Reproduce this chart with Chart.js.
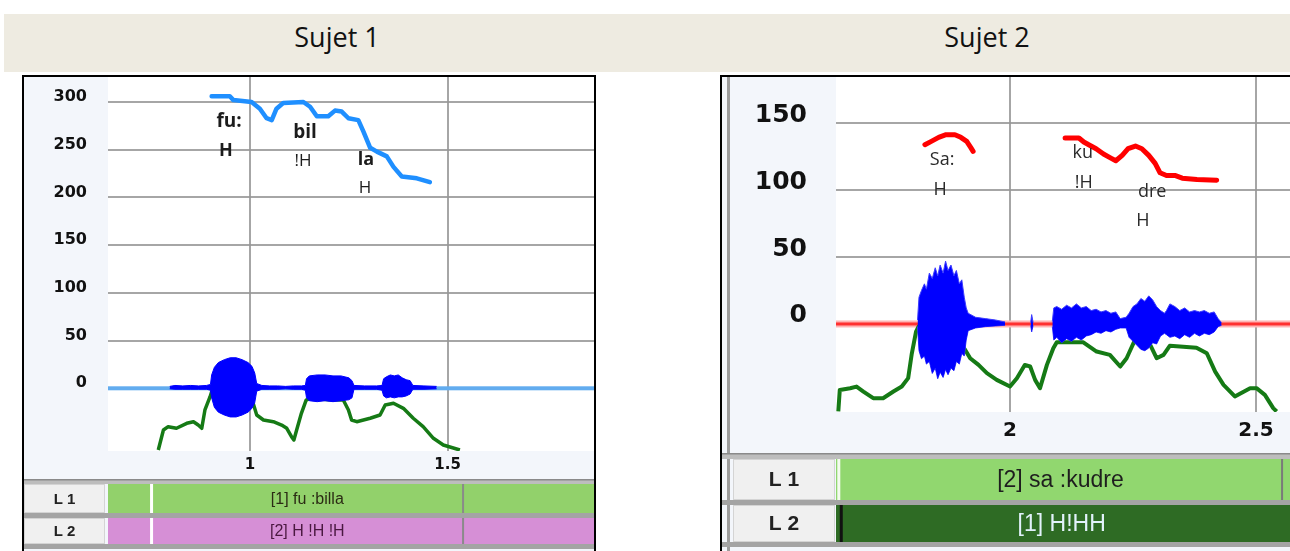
<!DOCTYPE html>
<html>
<head>
<meta charset="utf-8">
<title>Sujet 1 / Sujet 2</title>
<script src="https://cdn.jsdelivr.net/npm/chart.js@4.4.1/dist/chart.umd.min.js"></script>
<style>
  body { margin: 0; width: 1290px; height: 551px; overflow: hidden; background: #fff; position: relative; }
  .band { position: absolute; left: 4px; top: 14px; width: 1286px; height: 58px; background: #eeebe1; }
  .band span { position: absolute; top: 4px; line-height: 46px; font: 27px "Open Sans", sans-serif; color: #111; transform: translateX(-50%); }
  .panel { position: absolute; top: 75px; border-top: 2px solid #000; border-left: 2px solid #000; }
  #p1 { left: 22px; width: 570px; height: 474px; border-right: 2px solid #000; }
  #p2 { left: 720px; width: 568px; height: 474px; }
  canvas { display: block; }
</style>
</head>
<body>
<div class="band">
  <span style="left:333px">Sujet 1</span>
  <span style="left:983px">Sujet 2</span>
</div>
<div class="panel" id="p1"><canvas id="chart1" width="570" height="474"></canvas></div>
<div class="panel" id="p2"><canvas id="chart2" width="568" height="474"></canvas></div>

<script>
// ---- Sujet 1 : fu:billa ----
const xTicks1 = [1, 1.5];
const yTicks1 = [0, 50, 100, 150, 200, 250, 300];

// F0 contour (Hz)
const pitchTime1 = [0.903, 0.949, 0.958, 1.004, 1.025, 1.042, 1.055, 1.067, 1.084, 1.135, 1.152, 1.169, 1.198,
  1.215, 1.232, 1.249, 1.274, 1.287, 1.304, 1.321, 1.346, 1.363, 1.384, 1.422, 1.455];
const pitchHz1 = [306, 306, 302, 300, 293, 283, 281, 293, 299, 300, 295, 285, 285,
  291, 290, 283, 281, 269, 252, 248, 243, 232, 222, 220, 216];

// intensity curve, drawn below the zero line
const intTime1 = [0.768, 0.781, 0.793, 0.814, 0.840, 0.857, 0.869, 0.878, 0.886, 0.899,
  0.903, 0.930, 0.970, 1.008, 1.017, 1.034, 1.059, 1.080, 1.093, 1.105,
  1.111, 1.118, 1.130, 1.142, 1.152, 1.200, 1.236, 1.249, 1.257, 1.270,
  1.304, 1.329, 1.342, 1.363, 1.388, 1.413, 1.438, 1.464, 1.489, 1.531];
const intVal1 = [-64.7, -43.7, -40.2, -41.9, -36.7, -35, -38.5, -41.9, -22.7, -8.8,
  -3.6, 0, -5, -15.7, -28, -33.2, -35, -38.5, -41.9, -50.7,
  -54.2, -43.7, -26.2, -12.3, -10.5, -12, -12.3, -22.7, -33.2, -35,
  -31.4, -28, -17.5, -15.7, -21, -31.4, -40.2, -52.4, -59.4, -64.7];

// waveform envelope around zero
const waveTime1 = [0.797, 0.810, 0.830, 0.850, 0.870, 0.890, 0.900,
  0.903, 0.910, 0.920, 0.935, 0.950, 0.965, 0.980, 0.995, 1.005, 1.012, 1.017,
  1.030, 1.050, 1.070, 1.090, 1.110, 1.130, 1.140,
  1.143, 1.150, 1.170, 1.190, 1.210, 1.230, 1.250, 1.258, 1.263,
  1.290, 1.320, 1.334,
  1.338, 1.345, 1.355, 1.365, 1.375, 1.385, 1.395, 1.405, 1.412,
  1.440, 1.472];
const waveMax1 = [2, 3, 2.5, 3, 2.5, 3, 4,
  14, 22, 27, 30, 32, 32, 30, 27, 23, 16, 5,
  3, 2.5, 2.5, 2, 2.5, 2.5, 3,
  10, 13, 14, 14, 13, 13, 11, 8, 3,
  2.5, 2.5, 3,
  10, 12, 14, 13, 14, 11, 9, 8, 3,
  2.5, 2];
const waveMin1 = [-0.5, -1, -1, -1, -1, -1, -2,
  -10, -20, -25, -28, -30, -30, -28, -25, -21, -15, -3,
  -1, -1, -1, -0.5, -1, -1, -2,
  -10, -13, -14, -13, -14, -13, -12, -10, -1,
  -1, -1, -2,
  -8, -10, -9, -10, -9, -9, -8, -6, -1,
  -1, -0.5];

// syllable / tone labels
const sylText1 = ['fu:', 'H', 'bil', '!H', 'la', 'H'];
const sylTime1 = [0.947, 0.939, 1.139, 1.134, 1.293, 1.291];
const sylHz1 = [279, 248.7, 267.5, 238.2, 239.2, 209.9];

// annotation tiers
const tierNames = ['L 1', 'L 2'];
const tierText1 = ['[1] fu :billa', '[2] H !H !H'];
const tierStart1 = [0.751, 0.751];
const tierEnd1 = [1.539, 1.539];

// ---- Sujet 2 : sa:kudre ----
const xTicks2 = [2, 2.5];
const yTicks2 = [0, 50, 100, 150];

const pitchTime2 = [1.827, 1.840, 1.855, 1.870, 1.888, 1.900, 1.912, 1.920, 1.925,
  2.000,
  2.112, 2.140, 2.150, 2.160, 2.175, 2.190, 2.205, 2.215, 2.228, 2.240,
  2.255, 2.268, 2.282, 2.295, 2.305, 2.318, 2.335, 2.350, 2.380, 2.420];
const pitchHz2 = [134, 136.5, 139.5, 141.5, 141.5, 139.5, 136.5, 132, 129,
  null,
  139, 139, 136, 134, 131, 127, 124, 122, 126, 131,
  133, 131, 126, 120, 113, 111, 111, 109, 108, 107.5];

const intTime2 = [1.651, 1.654, 1.675, 1.688, 1.702, 1.722, 1.742, 1.763, 1.780, 1.793,
  1.800, 1.809, 1.814, 1.860, 1.909, 1.919, 1.936, 1.953, 1.973, 2.000,
  2.014, 2.030, 2.041, 2.051, 2.061, 2.075, 2.088, 2.095, 2.149, 2.176,
  2.203, 2.224, 2.237, 2.254, 2.261, 2.275, 2.285, 2.298, 2.312, 2.325,
  2.379, 2.400, 2.417, 2.434, 2.457, 2.488, 2.501, 2.518, 2.535, 2.542];
const intVal2 = [-65.4, -49.3, -48, -46.8, -50.5, -55.5, -55.5, -50.5, -46.8, -40.5,
  -23, -5.7, -2, 5, -19.4, -25.6, -30.6, -36.8, -41.8, -46.8,
  -40.5, -30.6, -31.8, -41.8, -48, -30.6, -18.1, -13.7, -13.7, -20.6,
  -23.1, -31.8, -25.6, -11.9, -8.2, -10, -15.7, -25.6, -23.1, -16.2,
  -17.7, -21.9, -35.6, -45.5, -54.2, -48, -48, -53, -62.9, -65.4];

// null entries leave the quiet stretches to the zero line
const waveTime2 = [1.812,
  1.815, 1.820, 1.826, 1.830, 1.836, 1.842, 1.848, 1.853, 1.858, 1.864,
  1.869, 1.874, 1.880, 1.886, 1.891, 1.897, 1.902, 1.907, 1.911, 1.915,
  1.930, 1.950, 1.970, 1.990, 2.000, 2.042, 2.044, 2.047, 2.060, 2.086,
  2.089, 2.095, 2.105, 2.115, 2.125, 2.135, 2.145, 2.155, 2.165, 2.175,
  2.185, 2.195, 2.205, 2.215, 2.224, 2.236,
  2.242, 2.250, 2.258, 2.266, 2.274, 2.282, 2.290, 2.298, 2.306, 2.314,
  2.318, 2.325, 2.335, 2.345, 2.355, 2.365, 2.375, 2.385, 2.395, 2.405,
  2.415, 2.423, 2.430];
const waveMax2 = [3,
  20, 25, 30, 26, 38, 34, 42, 36, 44, 38,
  47, 40, 44, 36, 40, 30, 33, 20, 12, 8,
  5, 4, 3, 1.5, null, 1, 7, 1, null, 2,
  12, 13, 11, 14, 12, 15, 12, 13, 10, 11,
  9, 10, 8, 9, 4, 5,
  8, 13, 15, 19, 17, 21, 18, 13, 10, 8,
  10, 15, 13, 10, 12, 9, 10, 9, 10, 8,
  9, 4, 1];
const waveMin2 = [-2,
  -20, -26, -24, -30, -28, -37, -33, -41, -36, -40,
  -34, -38, -33, -35, -28, -30, -22, -24, -12, -5,
  -3, -2, -1.5, -1, null, -1, -6, -1, null, -2,
  -12, -10, -14, -11, -13, -10, -12, -9, -8, -6,
  -7, -5, -6, -4, -3, -3,
  -10, -13, -16, -19, -20, -18, -14, -15, -9, -7,
  -8, -10, -9, -11, -8, -10, -7, -9, -7, -8,
  -6, -2, -1];

const sylText2 = ['Sa:', 'H', 'ku', '!H', 'dre', 'H'];
const sylTime2 = [1.862, 1.858, 2.148, 2.150, 2.289, 2.270];
const sylHz2 = [122.4, 100, 127.6, 105.2, 98.5, 76.9];

const tierText2 = ['[2] sa :kudre', '[1] H!HH'];
const tierStart2 = [1.652, 1.657];
const tierEnd2 = [2.553, 2.553];

const toPoints = (xs, ys) => xs.map((x, i) => ({ x: x, y: ys[i] }));

// Praat-like window furniture: panel background, zero line, text labels, tiers
const praatPlugin = {
  id: 'praat',
  beforeDraw(chart, args, o) {
    const { ctx, chartArea: a, width, height } = chart;
    const xs = chart.scales.x;
    ctx.save();
    ctx.fillStyle = '#f3f6fb';
    ctx.fillRect(0, 0, width, height);
    ctx.fillStyle = '#fff';
    ctx.fillRect(a.left, a.top, a.right - a.left, a.bottom - a.top);
    if (o.innerLine) {
      ctx.fillStyle = '#9c9c9c';
      ctx.fillRect(o.innerLine, 0, 3, height);
    }
    // separator above the tiers
    let y = o.sepTop;
    ctx.fillStyle = '#bdbdbd';
    ctx.fillRect(0, y, width, o.sepH);
    ctx.fillStyle = '#8a8a8a';
    ctx.fillRect(0, y, width, 1.5);
    y += o.sepH;
    o.rows.forEach((row, i) => {
      const h = o.rowH[i];
      // name cell
      ctx.fillStyle = '#f0f0f0';
      ctx.fillRect(o.cellLeft, y, o.cellRight - o.cellLeft, h);
      ctx.strokeStyle = '#d4d4d4';
      ctx.lineWidth = 1;
      ctx.strokeRect(o.cellLeft + 0.5, y + 0.5, o.cellRight - o.cellLeft - 1, h - 1);
      ctx.fillStyle = '#222';
      ctx.font = o.nameFont;
      ctx.textAlign = 'center';
      ctx.textBaseline = 'middle';
      ctx.fillText(o.names[i], (o.cellLeft + o.cellRight) / 2, y + h / 2 + 1);
      // interval bar
      ctx.fillStyle = row.fill;
      ctx.fillRect(a.left, y, a.right - a.left, h);
      const x0 = xs.getPixelForValue(o.start[i]);
      const x1 = xs.getPixelForValue(o.end[i]);
      if (row.startLine) {
        ctx.fillStyle = row.startLine;
        ctx.fillRect(x0 - 1.5, y, 3, h);
      }
      if (row.endLine) {
        ctx.fillStyle = row.endLine;
        ctx.fillRect(x1 - 1, y, 2, h);
      }
      ctx.fillStyle = row.color;
      ctx.font = o.textFont;
      ctx.fillText(o.text[i], (x0 + x1) / 2, y + h / 2 + 1);
      y += h;
      ctx.fillStyle = '#a4a4a4';
      ctx.fillRect(0, y, width, o.gapH);
      y += o.gapH;
    });
    ctx.restore();
  },
  beforeDatasetsDraw(chart, args, o) {
    const { ctx, chartArea: a } = chart;
    const y0 = chart.scales.y.getPixelForValue(0);
    ctx.save();
    if (o.zeroHalo) {
      ctx.fillStyle = o.zeroHalo;
      ctx.fillRect(a.left, y0 - o.zeroWidth / 2 - 2, a.right - a.left, o.zeroWidth + 4);
    }
    ctx.fillStyle = o.zeroColor;
    ctx.fillRect(a.left, y0 - o.zeroWidth / 2, a.right - a.left, o.zeroWidth);
    ctx.restore();
  },
  afterDatasetsDraw(chart, args, o) {
    const { ctx } = chart;
    const xs = chart.scales.x, ys = chart.scales.y;
    ctx.save();
    ctx.fillStyle = o.labelColor;
    ctx.textAlign = 'center';
    ctx.textBaseline = 'middle';
    o.labels.forEach((txt, i) => {
      ctx.font = o.labelFonts[i];
      ctx.fillText(txt, xs.getPixelForValue(o.labelTime[i]), ys.getPixelForValue(o.labelHz[i]));
    });
    ctx.restore();
  }
};

function buildChart(id, d, look) {
  const grid = () => ({ color: 'rgba(150,150,150,0.85)', lineWidth: 2, drawTicks: false });
  return new Chart(document.getElementById(id), {
    type: 'line',
    data: {
      datasets: [
        {
          label: 'F0',
          data: toPoints(d.pitchTime, d.pitchHz),
          borderColor: look.pitchColor,
          borderWidth: look.pitchWidth,
          borderCapStyle: 'round',
          borderJoinStyle: 'round',
          spanGaps: false
        },
        {
          label: 'wave max',
          data: toPoints(d.waveTime, d.waveMax),
          borderColor: look.waveEdge,
          backgroundColor: '#0000ff',
          borderWidth: 1,
          spanGaps: false,
          fill: '+1'
        },
        {
          label: 'wave min',
          data: toPoints(d.waveTime, d.waveMin),
          borderColor: look.waveEdge,
          borderWidth: 1,
          spanGaps: false,
          fill: false
        },
        {
          label: 'intensity',
          data: toPoints(d.intTime, d.intVal),
          borderColor: '#157a15',
          borderWidth: look.intWidth,
          borderJoinStyle: 'round'
        }
      ]
    },
    options: {
      responsive: false,
      animation: false,
      devicePixelRatio: 1,
      elements: { point: { radius: 0 }, line: { tension: 0 } },
      layout: { padding: { left: 0, right: 0, top: 0, bottom: look.padBottom } },
      scales: {
        x: {
          type: 'linear',
          min: look.xMin,
          max: look.xMax,
          z: 1,
          grid: grid(),
          border: { display: false },
          afterBuildTicks: s => { s.ticks = d.xTicks.map(v => ({ value: v })); },
          afterFit: s => { s.height = look.xHeight; s.paddingLeft = 0; s.paddingRight = 0; },
          ticks: {
            autoSkip: false,
            maxRotation: 0,
            padding: look.xPad,
            color: '#111',
            font: { family: 'DejaVu Sans', weight: 'bold', size: look.xFont },
            callback: v => String(v)
          }
        },
        y: {
          min: look.yMin,
          max: look.yMax,
          z: 1,
          grid: grid(),
          border: { display: false },
          afterBuildTicks: s => { s.ticks = d.yTicks.map(v => ({ value: v })); },
          afterFit: s => { s.width = look.yWidth; s.paddingTop = 0; s.paddingBottom = 0; },
          ticks: {
            padding: look.yPad,
            labelOffset: look.yOffset,
            color: '#111',
            font: { family: 'DejaVu Sans', weight: 'bold', size: look.yFont },
            callback: v => String(v)
          }
        }
      },
      plugins: {
        legend: { display: false },
        tooltip: { enabled: false },
        praat: look.praat
      }
    },
    plugins: [praatPlugin]
  });
}

// SUJET 1
buildChart('chart1', {
  xTicks: xTicks1, yTicks: yTicks1,
  pitchTime: pitchTime1, pitchHz: pitchHz1,
  intTime: intTime1, intVal: intVal1,
  waveTime: waveTime1, waveMax: waveMax1, waveMin: waveMin1
}, {
  pitchColor: '#1f8fff', pitchWidth: 4.5, intWidth: 3.5, waveEdge: '#0000ff',
  xMin: 0.6408, xMax: 1.8702, yMin: -65.7, yMax: 326.2,
  xHeight: 28, padBottom: 72, yWidth: 84, xPad: 5, xFont: 15,
  yPad: 21, yOffset: -5, yFont: 16,
  praat: {
    zeroColor: '#62acef', zeroWidth: 4,
    labels: sylText1, labelTime: sylTime1, labelHz: sylHz1, labelColor: '#1c1c1c',
    labelFonts: ['bold 19px "Open Sans"', 'bold 18px "Open Sans"', 'bold 19px "Open Sans"',
      '17px "Open Sans"', 'bold 18px "Open Sans"', '17px "Open Sans"'],
    sepTop: 402, sepH: 5, rowH: [29, 26], gapH: 5, cellLeft: 0, cellRight: 81,
    nameFont: 'bold 15px "Liberation Sans"', textFont: '16px "Liberation Sans"',
    names: tierNames, text: tierText1, start: tierStart1, end: tierEnd1,
    rows: [
      { fill: '#92d16b', color: '#2b2b14', startLine: '#ffffff', endLine: '#8a8a8a' },
      { fill: '#d68fd6', color: '#4a1840', startLine: '#ffffff', endLine: '#8a8a8a' }
    ]
  }
});

// SUJET 2
buildChart('chart2', {
  xTicks: xTicks2, yTicks: yTicks2,
  pitchTime: pitchTime2, pitchHz: pitchHz2,
  intTime: intTime2, intVal: intVal2,
  waveTime: waveTime2, waveMax: waveMax2, waveMin: waveMin2
}, {
  pitchColor: '#ff0000', pitchWidth: 5, intWidth: 4, waveEdge: '#3c3cff',
  xMin: 1.6463, xMax: 2.5691, yMin: -65.8, yMax: 184.6,
  xHeight: 41, padBottom: 98, yWidth: 114, xPad: 7, xFont: 20,
  yPad: 29, yOffset: -8, yFont: 25,
  praat: {
    zeroColor: '#ff3030', zeroWidth: 3, zeroHalo: '#ffb4b4',
    labels: sylText2, labelTime: sylTime2, labelHz: sylHz2, labelColor: '#2a2a2a',
    labelFonts: ['18px "Open Sans"', '18px "Open Sans"', '18px "Open Sans"',
      '18px "Open Sans"', '18px "Open Sans"', '18px "Open Sans"'],
    innerLine: 5,
    sepTop: 376, sepH: 6, rowH: [41, 37], gapH: 5, cellLeft: 11, cellRight: 113,
    nameFont: 'bold 21px "Liberation Sans"', textFont: '23px "Liberation Sans"',
    names: tierNames, text: tierText2, start: tierStart2, end: tierEnd2,
    rows: [
      { fill: '#91d76f', color: '#1e1e1e', startLine: '#f4fbef', endLine: '#7a7a7a' },
      { fill: '#2e6b24', color: '#e2f2fb', startLine: '#111111', endLine: null }
    ]
  }
});
</script>
</body>
</html>
